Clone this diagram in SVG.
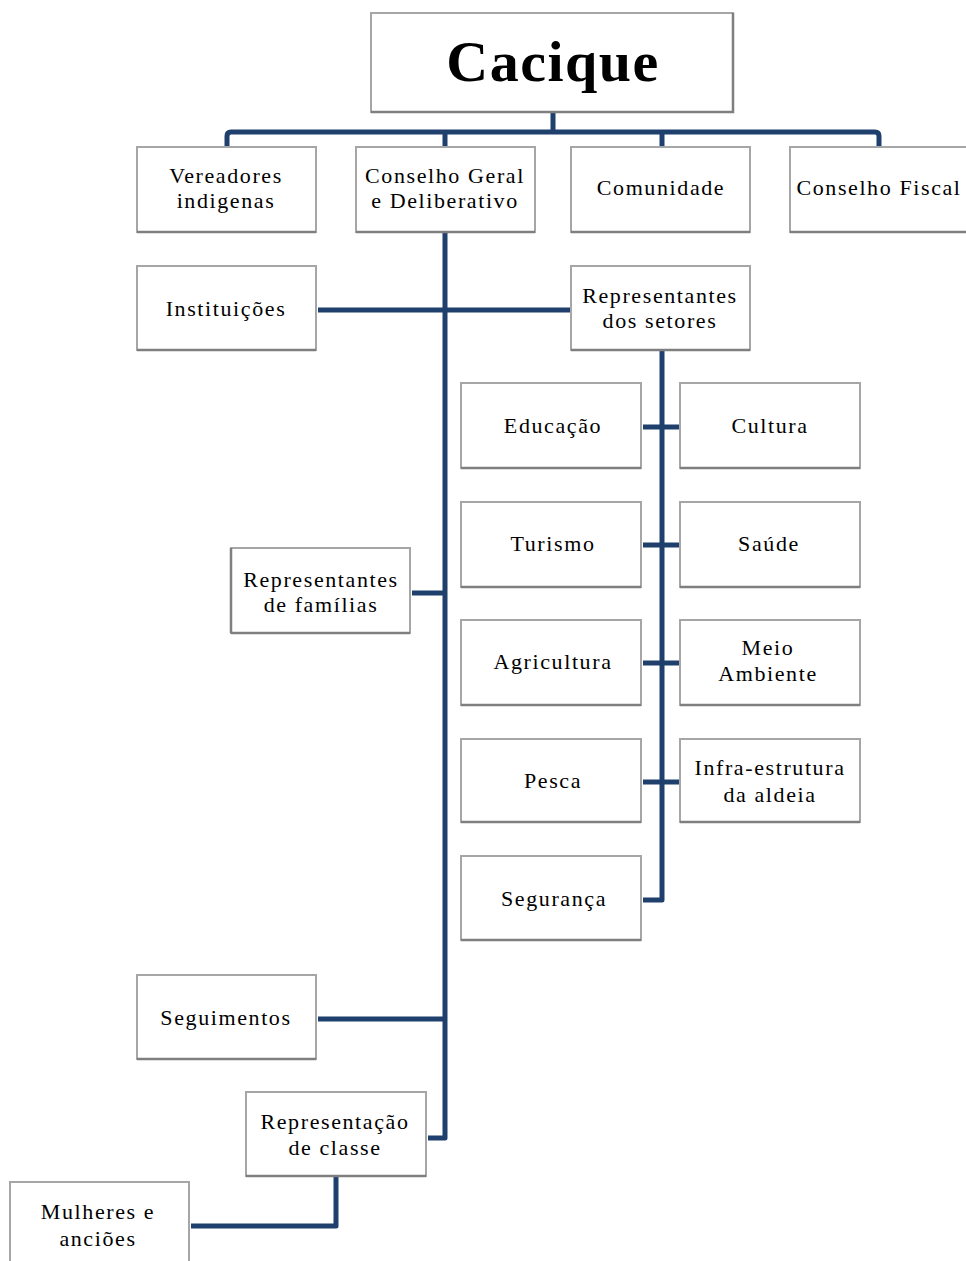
<svg xmlns="http://www.w3.org/2000/svg" width="966" height="1261" viewBox="0 0 966 1261">
<style>
.box{fill:#fff;stroke:#a6a6a6;stroke-width:2}
.sh{stroke:#7f7f7f;stroke-width:2.5;fill:none}
.t{font-family:"Liberation Serif","Times New Roman",serif;font-size:22px;letter-spacing:1.6px;fill:#000;text-anchor:middle}
.big{font-family:"Liberation Serif","Times New Roman",serif;font-size:58px;font-weight:bold;letter-spacing:1.5px;fill:#000;text-anchor:middle}
.c{stroke:#1f3f6d;stroke-width:5;fill:none;stroke-linejoin:round}
</style>
<rect width="966" height="1261" fill="#fff"/>
<g id="connectors">
<path class="c" d="M553 112V132M227 147V136Q227 132 231 132H875Q879 132 879 136V147M445 132V147M662 132V147"/>
<path class="c" d="M445 232V1138H428"/>
<path class="c" d="M318 310H570"/>
<path class="c" d="M662 350V900H643"/>
<path class="c" d="M643 427H679M643 545H679M643 663H679M643 782H679"/>
<path class="c" d="M412 593H445"/>
<path class="c" d="M318 1019H445"/>
<path class="c" d="M336 1177V1226H191"/>
</g>
<g id="cacique"><rect class="box" x="371" y="13" width="362" height="99"/><path class="sh" d="M371 112H733V13"/><text class="big" x="553" y="81">Cacique</text></g>
<g id="vereadores"><rect class="box" x="137" y="147" width="179" height="85"/><path class="sh" d="M137 232H316"/><text class="t" x="226" y="183">Vereadores</text><text class="t" x="226" y="208">indigenas</text></g>
<g id="conselho-geral"><rect class="box" x="356" y="147" width="179" height="85"/><path class="sh" d="M356 232H535"/><text class="t" x="445" y="183">Conselho Geral</text><text class="t" x="445" y="208">e Deliberativo</text></g>
<g id="comunidade"><rect class="box" x="571" y="147" width="179" height="85"/><path class="sh" d="M571 232H750"/><text class="t" x="661" y="195">Comunidade</text></g>
<g id="conselho-fiscal"><rect class="box" x="790" y="147" width="180" height="85"/><path class="sh" d="M790 232H966"/><text class="t" x="879" y="195">Conselho Fiscal</text></g>
<g id="instituicoes"><rect class="box" x="137" y="266" width="179" height="84"/><path class="sh" d="M137 350H316"/><text class="t" x="226" y="316">Instituições</text></g>
<g id="rep-setores"><rect class="box" x="571" y="266" width="179" height="84"/><path class="sh" d="M571 350H750"/><text class="t" x="660" y="303">Representantes</text><text class="t" x="660" y="328">dos setores</text></g>
<g id="educacao"><rect class="box" x="461" y="383" width="180" height="85"/><path class="sh" d="M461 468H641"/><text class="t" x="553" y="433">Educação</text></g>
<g id="cultura"><rect class="box" x="680" y="383" width="180" height="85"/><path class="sh" d="M680 468H860"/><text class="t" x="770" y="433">Cultura</text></g>
<g id="turismo"><rect class="box" x="461" y="502" width="180" height="85"/><path class="sh" d="M461 587H641"/><text class="t" x="553" y="551">Turismo</text></g>
<g id="saude"><rect class="box" x="680" y="502" width="180" height="85"/><path class="sh" d="M680 587H860"/><text class="t" x="769" y="551">Saúde</text></g>
<g id="agricultura"><rect class="box" x="461" y="620" width="180" height="85"/><path class="sh" d="M461 705H641"/><text class="t" x="553" y="669">Agricultura</text></g>
<g id="meio-ambiente"><rect class="box" x="680" y="620" width="180" height="85"/><path class="sh" d="M680 705H860"/><text class="t" x="768" y="655">Meio</text><text class="t" x="768" y="681">Ambiente</text></g>
<g id="pesca"><rect class="box" x="461" y="739" width="180" height="83"/><path class="sh" d="M461 822H641"/><text class="t" x="553" y="788">Pesca</text></g>
<g id="infra"><rect class="box" x="680" y="739" width="180" height="83"/><path class="sh" d="M680 822H860"/><text class="t" x="770" y="775">Infra-estrutura</text><text class="t" x="770" y="802">da aldeia</text></g>
<g id="seguranca"><rect class="box" x="461" y="856" width="180" height="84"/><path class="sh" d="M461 940H641"/><text class="t" x="554" y="906">Segurança</text></g>
<g id="rep-familias"><rect class="box" x="231" y="548" width="179" height="85"/><path class="sh" d="M231 633H410M231 548V633"/><text class="t" x="321" y="587">Representantes</text><text class="t" x="321" y="612">de famílias</text></g>
<g id="seguimentos"><rect class="box" x="137" y="975" width="179" height="84"/><path class="sh" d="M137 1059H316"/><text class="t" x="226" y="1025">Seguimentos</text></g>
<g id="rep-classe"><rect class="box" x="246" y="1092" width="180" height="84"/><path class="sh" d="M246 1176H426"/><text class="t" x="335" y="1129">Representação</text><text class="t" x="335" y="1155">de classe</text></g>
<g id="mulheres"><rect class="box" x="10" y="1182" width="179" height="85"/><text class="t" x="98" y="1219">Mulheres e</text><text class="t" x="98" y="1246">anciões</text></g>
</svg>
